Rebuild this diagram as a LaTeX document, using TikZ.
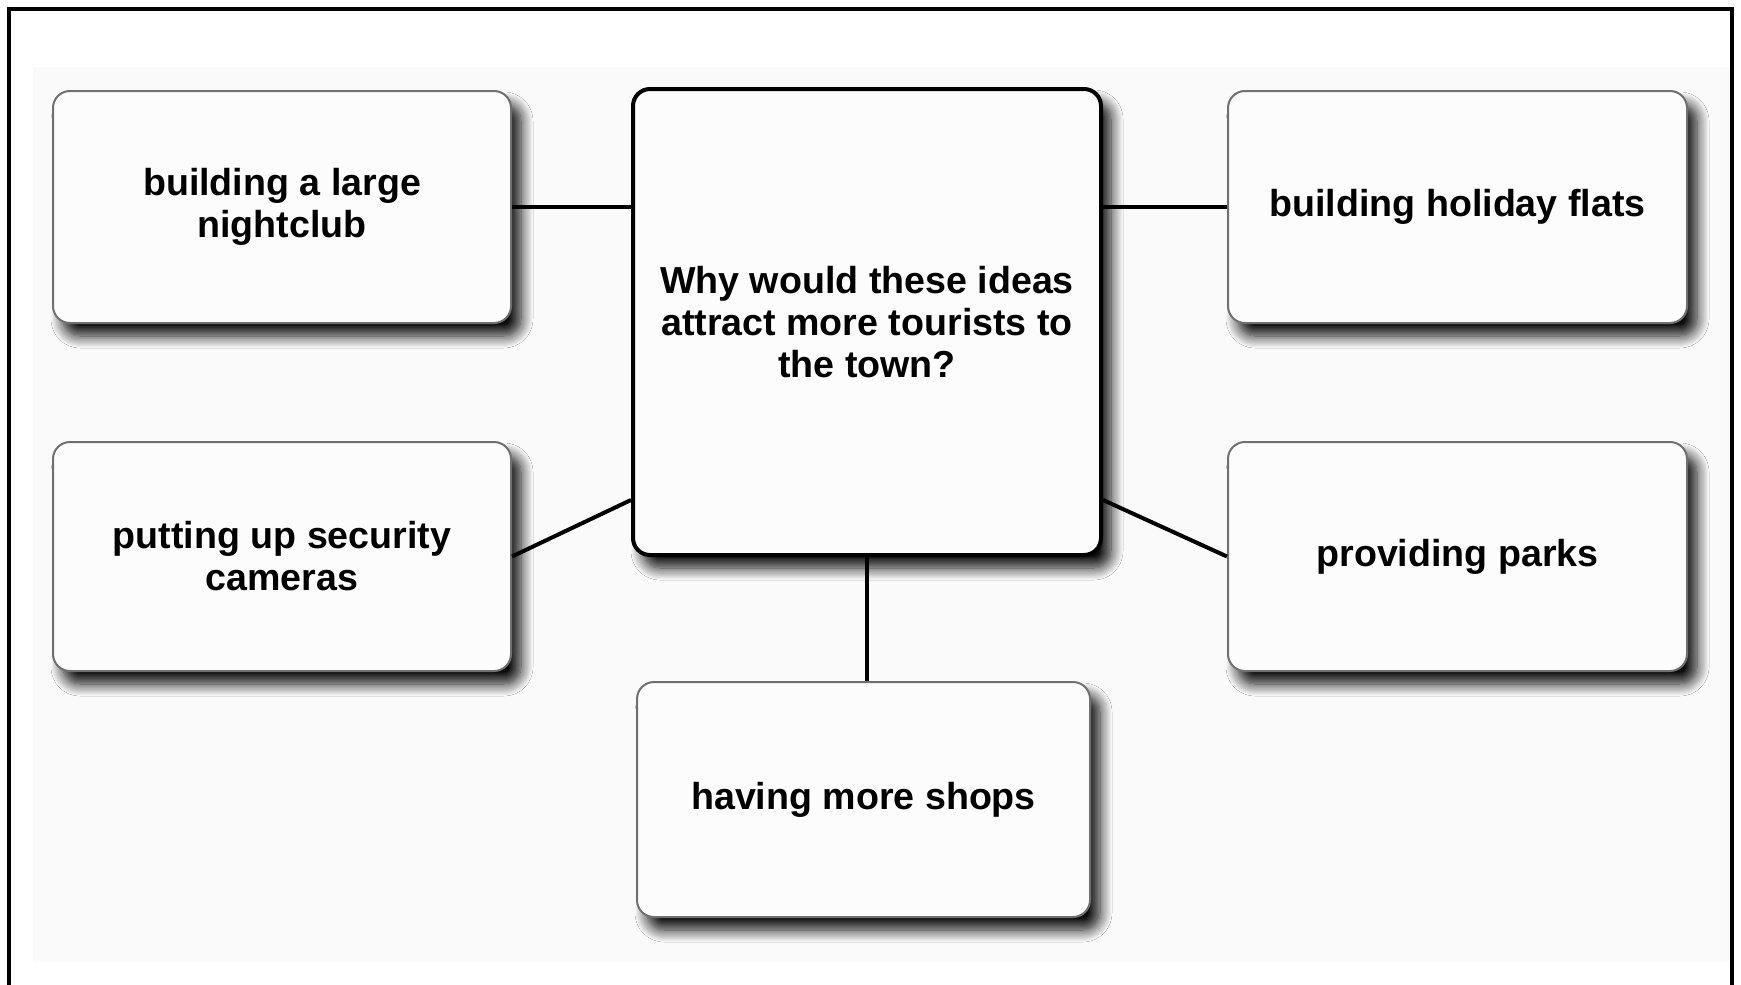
\documentclass[tikz,border=0pt]{standalone}
\usepackage{fontspec}
\setmainfont{Liberation Sans}
\usetikzlibrary{shadows.blur}
\definecolor{bggray}{HTML}{FAFAFA}
\definecolor{boxfill}{HTML}{FCFCFC}
\definecolor{sideline}{HTML}{707070}
\begin{document}
\begin{tikzpicture}[x=0.5pt,y=-0.5pt,
  txt/.style={font=\bfseries\fontsize{18.8pt}{21pt}\selectfont, align=center, text=black},
  shad/.style={blur shadow={shadow xshift=5pt, shadow yshift=-6.5pt, shadow blur radius=6pt, shadow opacity=95, shadow blur steps=12}},
  sidebox/.style={txt, draw=sideline, line width=1pt, fill=boxfill, rounded corners=8.5pt, shad},
  mainbox/.style={txt, draw=black, line width=2pt, fill=boxfill, rounded corners=8.5pt, shad},
  conn/.style={draw=black, line width=2pt}]
\useasboundingbox (0,0) rectangle (1741,985);
\fill[white] (0,0) rectangle (1741,985);
\fill[bggray] (33,67) rectangle (1732,962);
\draw[line width=2pt, line join=miter] (9,985) -- (9,9) -- (1732,9) -- (1732,985);

\node[mainbox, minimum width=234pt, minimum height=233pt] (c) at (867,322)
  {Why would these ideas\\attract more tourists to\\the town?};
\node[sidebox, minimum width=229pt, minimum height=116pt] (tl) at (282,207)
  {building a large\\nightclub};
\node[sidebox, minimum width=229.5pt, minimum height=116pt] (tr) at (1457.5,207)
  {building holiday flats};
\node[sidebox, minimum width=229pt, minimum height=114.5pt] (ml) at (282,556.5)
  {putting up security\\cameras};
\node[sidebox, minimum width=229.5pt, minimum height=114.5pt] (mr) at (1457.5,556.5)
  {providing parks};
\node[sidebox, minimum width=226.5pt, minimum height=117.5pt] (b) at (863.5,799.5)
  {having more shops};

\draw[conn] (tl.east) -- (tl.east -| c.west);
\draw[conn] (tr.west) -- (tr.west -| c.east);
\draw[conn] (ml.east) -- ([yshift=28.5pt]c.south west);
\draw[conn] ([yshift=28.5pt]c.south east) -- (mr.west);
\draw[conn] (c.south) -- (c.south |- b.north);
\end{tikzpicture}
\end{document}
